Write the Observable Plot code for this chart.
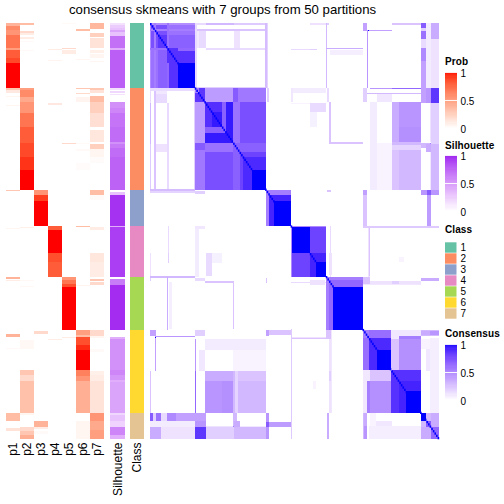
<!DOCTYPE html>
<html><head><meta charset="utf-8">
<script src="https://cdn.jsdelivr.net/npm/d3@7"></script>
<script src="https://cdn.jsdelivr.net/npm/@observablehq/plot@0.6"></script>
<style>
html,body{margin:0;padding:0;background:#fff}
#page{position:relative;width:504px;height:504px;overflow:hidden;font-family:"Liberation Sans",sans-serif;color:#000}
#page>*{position:absolute}
#page svg{overflow:visible;background:transparent}
.t{white-space:nowrap}
</style></head><body><div id="page"></div>
<script>
const titleText = "consensus skmeans with 7 groups from 50 partitions";
const rowCount = 416;
const classNames = ["1","2","3","4","5","6","7"];
const classColors = ["#66C2A5","#FC8D62","#8DA0CB","#E78AC3","#A6D854","#FFD92F","#E5C494"];
const classEdges = [0,65,167,203,254,307,390,416];
const probNames = ["p1","p2","p3","p4","p5","p6","p7"];
const p1 = [[0,3,.4],[3,7,.6],[7,12,.55],[12,25,.7],[25,27,.5],[27,35,.8],[35,40,.87],[40,65,1],[65,66.5,.3],[66.5,70,.12],[73,74,.05],[82,83,.05],[167,168,.3],[205,206,.05],[254,256,.4],[257,258,.1],[311,314,.4],[325,326,.03],[390,398,.35],[405,408,.15]];
const p2 = [[0,2,.35],[8,10,.2],[10,12,.1],[14,16,.1],[18,19,.03],[27,28,.03],[65,67,.5],[67,74,.6],[74,79,.45],[79,90,.55],[90,104,.7],[104,120,.8],[120,134,.87],[134,147,.93],[147,167,1],[204,205,.08],[257,258,.04],[263,264,.04],[317,326,.04],[347,352,.3],[352,358,.2],[358,390,.33],[390,392,.05],[404,408,.2],[408,412,.3],[412,416,.42]];
const p3 = [[167,172,.55],[172,178,.9],[178,203,1],[308,311,.2],[398,404,.4],[404,406,.1],[408,411,.03]];
const p4 = [[26,27,.1],[37,38,.06],[80,82,.12],[203,207,.8],[207,230,1],[230,239,.85],[239,254,.8],[316,317,.1]];
const p5 = [[0,1,.03],[25,26,.2],[27,31,.1],[119.5,120.5,.2],[254,257,.55],[257,261,.7],[261,264,.85],[264,307,1],[314,315,.1]];
const p6 = [[6,8,.35],[36,37,.05],[65,66,.3],[70,71,.2],[74,79,.06],[120,121,.03],[126,128,.03],[140,147,.02],[203,204,.35],[262,263,.06],[307,312,.5],[312,314,.35],[314,322,.85],[322,327,.95],[327,347,1],[347,353,.65],[353,358,.55],[358,390,.42],[398,407,.05],[407,416,.05]];
const p7 = [[0,6,.38],[10,14,.25],[15,25,.15],[27,30,.08],[31,35,.05],[38,39,.05],[65,67,.3],[67,70,.15],[73,79,.35],[79,90,.25],[90,104,.17],[107,119,.13],[121,126,.25],[126,134,.05],[134,140,.02],[167,172,.35],[172,177,.03],[204,207,.1],[230,239,.13],[239,254,.1],[256,258,.3],[259,262,.2],[307,313,.2],[313,315,.05],[326,329,.03],[348,352,.08],[352,358,.1],[358,390,.15],[390,398,.55],[398,407,.45],[407,416,.5]];
const silhouette = [[0,2,.15],[2,5,.25],[5,7,.3],[7,9,.45],[9,13,.3],[13,25,.7],[25,27,.4],[27,65,.78],[65,67,.15],[68,70,.2],[71,72,.15],[79,85,.55],[85,90,.6],[90,104,.68],[104,119,.72],[119,121,.55],[121,125,.65],[125,134,.72],[134,167,.76],[169,172,.3],[172,203,.95],[203,204,.4],[204,254,.91],[256,262,.65],[262,307,.97],[314,316,.4],[316,347,.55],[347,352,.6],[352,357,.52],[357,359,.4],[359,390,.45],[390,392,.2],[392,398,.3],[398,404,.22],[404,412,.6],[412,416,.4]];
const diagonalSpans = [[0,416]];
const rowsPerSample = 2.3;
const consensusBlocks = [
 [0,65,0,65,.75],[0,25,25,65,.68],[0,12,25,65,.6],[0,12,0,12,.75],[0,2,0,65,.48],[6,8,0,65,.55],[25,27,0,65,.6],[25,40,25,65,.87],[40,65,25,40,.87],[40,65,40,65,1],[12,25,12,25,.85],[40,65,25,28,.65],
 [65,167,65,167,.6],[65,70,65,167,.38],[70,79,65,80,.85],[70,79,80,167,.45],[65,70,65,70,.55],[79,120,65,80,.42],[120,127,65,80,.7],[127,167,65,80,.58],
 [79,120,79,120,.88],[79,120,104,110,.68],[79,120,110,120,.95],[89,104,89,104,.95],[79,120,120,167,.75],[79,120,120,129,.6],[120,167,120,167,.8],[120,167,120,129,.68],[134,147,134,167,.9],[147,167,147,167,1],
 [167,203,167,203,1],[167,172,167,203,.55],[172,178,172,203,.92],[167,172,167,172,.55],
 [203,254,203,254,.8],[203,230,203,230,1],[203,204,203,254,.5],[230,254,230,254,.92],[239,254,239,254,1],
 [254,307,254,307,1],[254,264,254,307,.65],[254,257,254,307,.55],
 [307,390,307,390,.45],[307,315,313,348,.65],[307,315,348,358,.2],[307,315,358,390,.1],[307,315,307,313,.55],[315,347,307,316,.62],[315,347,316,348,.9],[327,347,327,348,1],[315,347,348,358,.6],[315,347,358,390,.47],[347,358,307,316,.1],[347,358,316,348,.25],[358,390,307,313,.1],[358,390,313,316,.55],[347,390,348,368,.85],[347,358,348,390,.87],[358,390,358,368,.92],[368,390,368,390,1],
 [390,416,390,416,.35],[390,398,390,398,1],[398,404,398,404,.7],[404,416,404,416,.65],[390,398,398,404,.3],
 [0,2,65,80,.15],[0,2,80,121,.3],[0,2,121,167,.22],[6,8,65,167,.25],[8,25,71,80,.15],[8,25,121,129,.12],[8,25,67,71,.1],[25,27,80,167,.15],[0,65,65,68,.15],[64,65,68,167,.2],[0,65,166,168,.28],[168,170,0,65,.18],
 [0,2,230,254,.12],[26,27,203,230,.15],[26,27,230,240,.2],[0,65,253,254.5,.3],[25,26,254,307,.35],[27,32,259,306,.07],[0,2,255,258,.2],
 [0,8,307,313,.4],[7,8,313,348,.4],[7,8,313,315,1],[7,65,313,314,.45],[64.5,66,316,348,.45],[64.5,66,348,390,.65],[0,2,348,390,.25],
 [2,7,390,398,.75],[8,12,390,398,.65],[12,25,390,398,.5],[25,65,390,398,.4],[0,65,398,403,.13],[2,7,403,416,.4],[10,14,403,416,.4],[14,24,403,416,.2],
 [65,79,168,171,.2],[80,81,203,254,.05],[65,70,203,254,.08],[80,89,230,253,.15],[89,104,230,240,.06],[65,79,255,258,.15],[65,79,203,206,.1],
 [79,119,258,260,.25],[119,121,258,306,.25],[65,79,307,313,.2],[70,71,313,390,.3],[71,79,327,348,.1],
 [79,167,316,327,.08],[120,167,327,348,.05],[79,119,348,358,.35],[79,104,358,390,.45],[104,119,358,390,.47],[119,122,348,390,.3],[122,127,348,390,.18],[127,167,348,358,.25],[127,167,358,390,.3],
 [65,79,390,403,.45],[65,79,403,416,.7],[68,72,409,416,.88],[120,125,390,403,.3],[120,125,403,416,.55],[125,167,403,416,.22],[80,119,403,416,.12],[125,167,403,408,.1],
 [167,169,255,260,.25],[167,172,307,313,.4],[172,203,307,312,.25],[172,203,399,404,.42],[167,172,390,416,.45],[167,172,399,404,.7],
 [203,254,259,260,.15],[203,205,307,390,.25],[255,257,390,416,.35],[203,205,390,416,.2],[257,262,230,252,.12],
 [203,254,314,316,.12],[254,257,307,312,.1],[258,262,314,390,.12],[258,262,348,358,.2],[234,239,358,366,.05],
 [307,316,254,261,.25],[315,316,204,253,.25],[307,390,261,262,.1],[390,416,255,258,.35],
 [390,416,307,313,.3],[390,416,316,326,.05],[398,416,326,348,.1],[408,416,367,390,.08],[308,312,390,403,.35],[308,312,403,416,.45],[315,390,403,416,.07],[306,416,203,205,.22],
 [390,398,0,5,.7],[390,398,5,8,.2],[390,398,8,16,.6],[390,398,16,25,.15],[390,398,25,38,.5],[390,398,38,65,.4],[404,416,0,16,.35],[404,416,16,65,.12],[398,404,0,65,.08],
 [390,398,65,80,.4],[398,404,65,80,.45],[404,416,65,80,.85],[404,416,80,121,.2],[404,416,121,167,.3],[398,404,121,129,.35]
];

const page = document.getElementById("page");
function place(node, left, top){ node.style.left = left+"px"; node.style.top = top+"px"; page.appendChild(node); return node; }
function text(str, left, top, size, bold){
  const d = document.createElement("div"); d.className="t"; d.textContent=str;
  d.style.fontSize=size+"px"; d.style.lineHeight="1"; if(bold){d.style.fontWeight="bold"; d.style.letterSpacing="0.1px";}
  return place(d,left,top);
}
const rowScale = {type:"linear", domain:[rowCount,0], axis:null};
const probColor = {type:"linear", domain:[0,1], range:["#ffffff","#ff0000"], interpolate:d3.interpolateLab};
const silColor = {type:"linear", domain:[0,1], range:["#ffffff","#a020f0"], interpolate:d3.interpolateLab};
const conColor = {type:"linear", domain:[0,1], range:["#ffffff","#0000ff"], interpolate:d3.interpolateLab};
const rowAxis = () => Plot.axisX({tickSize:0, tickRotate:-90, fontSize:12, tickPadding:3, label:null, fontFamily:"Liberation Sans"});
const strip = {marginTop:0,marginLeft:0,marginRight:0,marginBottom:70,height:486,style:{background:"transparent"}};

text(titleText, 69, 3, 13.2);

const probRows = [p1,p2,p3,p4,p5,p6,p7].flatMap((col,i)=>col.map(([a,b,v])=>({col:probNames[i],a,b,v})));
place(Plot.plot({...strip,width:100,x:{type:"band",domain:probNames,padding:0,label:null},y:rowScale,color:probColor,
  marks:[Plot.barY(probRows,{x:"col",y1:"a",y2:"b",fill:"v",shapeRendering:"crispEdges"}),rowAxis()]}),5,23);

place(Plot.plot({...strip,width:15,x:{type:"band",domain:["Silhouette"],padding:0,label:null},y:rowScale,color:silColor,
  marks:[Plot.barY(silhouette.map(([a,b,v])=>({col:"Silhouette",a,b,v})),{x:"col",y1:"a",y2:"b",fill:"v",shapeRendering:"crispEdges"}),rowAxis()]}),110,23);

const classRows = classNames.map((c,i)=>({col:"Class",c,a:classEdges[i],b:classEdges[i+1]}));
place(Plot.plot({...strip,width:14,x:{type:"band",domain:["Class"],padding:0,label:null},y:rowScale,color:{type:"ordinal",domain:classNames,range:classColors},
  marks:[Plot.barY(classRows,{x:"col",y1:"a",y2:"b",fill:"c",shapeRendering:"crispEdges"}),rowAxis()]}),130,23);

const blocks = consensusBlocks.flatMap(([a,b,c,d,v])=>[{x1:c,x2:d,y1:a,y2:b,v},{x1:a,x2:b,y1:c,y2:d,v}]);
const diag = diagonalSpans.flatMap(([a,b])=>d3.range(a,b,rowsPerSample).map(s=>({x1:s,x2:s+rowsPerSample,y1:s,y2:s+rowsPerSample,v:1})));
place(Plot.plot({width:289,height:416,margin:0,x:{type:"linear",domain:[0,rowCount],axis:null},y:rowScale,color:conColor,
  marks:[Plot.rect(blocks,{x1:"x1",x2:"x2",y1:"y1",y2:"y2",fill:"v",shapeRendering:"crispEdges"}),
         Plot.rect(diag,{x1:"x1",x2:"x2",y1:"y1",y2:"y2",fill:"v"})]}),150,23);

const legendTicks = [0,0.5,1];
const legendSteps = d3.range(0,50).map(i=>i/50);
function gradientLegend(title, color, titleTop, barTop){
  text(title, 445, titleTop, 10, true);
  place(Plot.plot({width:12,height:56,marginTop:0,marginBottom:0,marginLeft:0,marginRight:0,
    x:{axis:null,domain:[0,1]},y:{domain:[0,1],axis:null},color,
    marks:[Plot.rect(legendSteps,{x1:0,x2:1,y1:d=>d,y2:d=>d+0.02,fill:d=>d+0.01,shapeRendering:"crispEdges"}),
      Plot.tickY(legendTicks,{x1:0,x2:.17,y:d=>d,stroke:"#fff",strokeWidth:.7}),
      Plot.tickY(legendTicks,{x1:.83,x2:1,y:d=>d,stroke:"#fff",strokeWidth:.7}),
      Plot.text(legendTicks,{x:1,y:d=>d,text:d=>String(d),dx:3,dy:1.5,textAnchor:"start",fontSize:10,fontFamily:"Liberation Sans",fill:"#000"})]}),445,barTop);
}
gradientLegend("Prob",probColor,57,72);
gradientLegend("Silhouette",silColor,141,155);
gradientLegend("Consensus",conColor,329,344);

text("Class",445,225,10,true);
place(Plot.plot({width:11.5,height:80,marginTop:0,marginBottom:0,marginLeft:0,marginRight:0,
  x:{axis:null,domain:[0,1]},y:{type:"band",domain:classNames,padding:0,axis:null},color:{type:"ordinal",domain:classNames,range:classColors},
  marks:[Plot.barX(classNames,{y:d=>d,x1:0,x2:1,fill:d=>d,insetTop:.3,insetBottom:.3}),
    Plot.text(classNames,{x:1,y:d=>d,text:d=>d,dx:3.5,textAnchor:"start",fontSize:10,fontFamily:"Liberation Sans",fill:"#000"})]}),445,240);
</script></body></html>
